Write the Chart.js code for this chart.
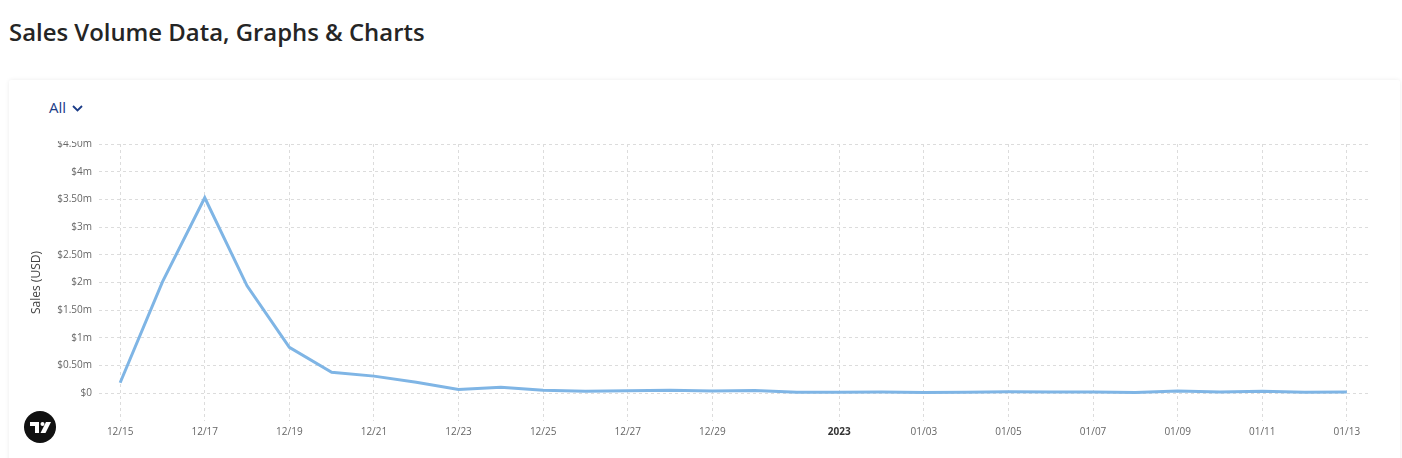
<!DOCTYPE html>
<html>
<head>
<meta charset="utf-8">
<script src="https://cdn.jsdelivr.net/npm/chart.js@4.4.1/dist/chart.umd.min.js"></script>
<style>
  html, body { margin: 0; padding: 0; background: #fff; }
  body { width: 1402px; height: 458px; overflow: hidden; position: relative; font-family: "Open Sans", sans-serif; }
  h1 { position: absolute; left: 9px; top: 15px; margin: 0; font-size: 23.9px; font-weight: 600; color: #252525; }
  .card { position: absolute; left: 9px; top: 80px; width: 1391px; height: 400px; background: #fff;
          box-shadow: 0 0 4px rgba(0,0,0,0.08); border-radius: 2px; }
  .filter { position: absolute; left: 40px; top: 17px; font-size: 15px; font-weight: 500; color: #1b3c87; }
  .filter svg { margin-left: 6px; vertical-align: 1px; }
  .wrap { position: absolute; left: 0; top: 61px; width: 1391px; height: 320px; overflow: hidden; }
  #chart { position: absolute; left: 0; top: -10px; }
  .logo { position: absolute; left: 15px; top: 331px; }
</style>
</head>
<body>
<h1>Sales Volume Data, Graphs &amp; Charts</h1>
<div class="card">
  <div class="filter">All<svg width="11" height="7" viewBox="0 0 11 7"><path d="M1 1 L5.5 5.5 L10 1" fill="none" stroke="#1b3c87" stroke-width="1.8"/></svg></div>
  <div class="wrap"><canvas id="chart"></canvas></div>
  <div class="logo">
    <svg width="32" height="32" viewBox="0 0 32 32">
      <circle cx="16" cy="16" r="16" fill="#111"/>
      <path d="M6 11 H15 V22 H11 V15 H6 Z" fill="#fff"/>
      <circle cx="18.5" cy="13" r="2" fill="#fff"/>
      <path d="M22 11 H27 L21.5 22 H16.5 Z" fill="#fff"/>
    </svg>
  </div>
</div>
<script>
const labels = [
  "12/15", "12/16", "12/17", "12/18", "12/19", "12/20", "12/21", "12/22", "12/23", "12/24",
  "12/25", "12/26", "12/27", "12/28", "12/29", "12/30", "12/31", "2023", "01/02", "01/03",
  "01/04", "01/05", "01/06", "01/07", "01/08", "01/09", "01/10", "01/11", "01/12", "01/13"
];
// which dates get a tick label and a vertical grid line
const shownTicks = [0, 2, 4, 6, 8, 10, 12, 14, 17, 19, 21, 23, 25, 27, 29];

const sales = [
  190000, 2010000, 3530000, 1940000, 830000, 380000, 310000, 200000, 70000, 110000,
  55000, 35000, 45000, 55000, 40000, 50000, 20000, 20000, 25000, 15000,
  20000, 30000, 25000, 25000, 15000, 40000, 25000, 35000, 20000, 25000
];

const yTicks = [-500000, 0, 500000, 1000000, 1500000, 2000000, 2500000, 3000000, 3500000, 4000000, 4500000];

function money(v) {
  if (v === 0) return "$0";
  const m = v / 1000000;
  return "$" + (Number.isInteger(m) ? m : m.toFixed(2)) + "m";
}

const gridColor = "#dcdcdc";
const canvas = document.getElementById("chart");
canvas.width = 1359;
canvas.height = 312;
canvas.style.width = "1359px";
canvas.style.height = "312px";

new Chart(canvas.getContext("2d"), {
  type: "line",
  data: {
    labels,
    datasets: [{
      data: sales,
      borderColor: "#7fb5e5",
      borderWidth: 3,
      pointRadius: 0,
      tension: 0,
      fill: false,
    }],
  },
  options: {
    responsive: false,
    animation: false,
    layout: { padding: { left: 20, right: 0, top: 0, bottom: 0 } },
    plugins: { legend: { display: false }, tooltip: { enabled: false } },
    scales: {
      x: {
        type: "category",
        offset: true,
        grid: {
          offset: false,
          drawTicks: false,
          color: (ctx) => shownTicks.includes(ctx.index) ? gridColor : "rgba(0,0,0,0)",
        },
        border: { display: false, dash: [3, 3] },
        ticks: {
          autoSkip: false,
          maxRotation: 0,
          padding: 5,
          color: (ctx) => ctx.tick && ctx.tick.label === "2023" ? "#333" : "#666",
          font: (ctx) => ({
            family: "Open Sans",
            size: 10,
            weight: ctx.tick && ctx.tick.label === "2023" ? "bold" : "normal",
          }),
          callback: function (value, index) {
            return shownTicks.includes(index) ? labels[index] : "";
          },
        },
      },
      y: {
        min: yTicks[0],
        max: yTicks[yTicks.length - 1],
        afterBuildTicks: (scale) => { scale.ticks = yTicks.map((v) => ({ value: v })); },
        afterFit: (scale) => { scale.width = 70; },
        grid: {
          drawTicks: false,
          color: (ctx) => ctx.tick && ctx.tick.value < 0 ? "rgba(0,0,0,0)" : gridColor,
        },
        border: { display: false, dash: [3, 3] },
        title: {
          display: true,
          text: "Sales (USD)",
          color: "#444",
          font: { family: "Open Sans", size: 12 },
          padding: { top: 0, bottom: 0 },
        },
        ticks: {
          padding: 7,
          color: "#666",
          font: { family: "Open Sans", size: 10 },
          callback: (v) => v < 0 ? "" : money(v),
        },
      },
    },
  },
});
</script>
</body>
</html>
